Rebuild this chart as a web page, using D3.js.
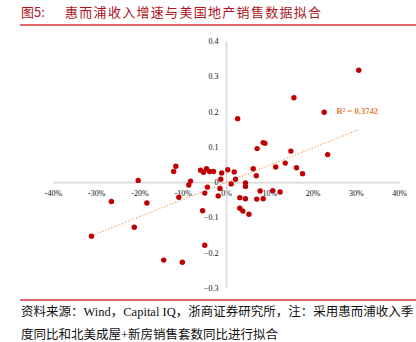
<!DOCTYPE html>
<html>
<head>
<meta charset="utf-8">
<script src="https://cdn.jsdelivr.net/npm/d3@7"></script>
<style>
  html, body { margin: 0; padding: 0; background: #fff; }
  svg { display: block; }
</style>
</head>
<body>
<svg id="chart" width="416" height="342"></svg>
<script>
// Quarterly Whirlpool revenue growth (y) vs. North American existing + new home sales growth (x)
const salesGrowth = [
  0.307, 0.157, 0.227, 0.027, 0.086, 0.090, 0.072, 0.150, 0.235, 0.137,
  0.115, 0.163, 0.063, 0.004, 0.177, 0.070, 0.019, -0.010, 0.022, 0.012,
  0.045, 0.045, 0.079, 0.108, 0.125, 0.032, 0.045, 0.071, 0.086, 0.032,
  0.039, 0.053, -0.012, -0.014, -0.018, -0.043, -0.049, -0.054, -0.049, -0.059,
  -0.052, -0.045, -0.038, -0.029, -0.116, -0.121, -0.082, -0.086, -0.109, -0.203,
  -0.265, -0.183, -0.212, -0.311, -0.144, -0.101
];
const revenueGrowth = [
  0.317, 0.239, 0.198, 0.180, 0.112, 0.110, 0.095, 0.088, 0.078, 0.054,
  0.043, 0.041, 0.038, 0.035, 0.024, 0.018, 0.029, 0.026, 0.008, -0.005,
  -0.002, -0.012, -0.025, -0.024, -0.028, -0.044, -0.047, -0.048, -0.047, -0.074,
  -0.082, -0.091, 0.008, -0.018, -0.039, -0.014, -0.031, -0.081, -0.179, 0.034,
  0.028, 0.038, 0.030, 0.030, 0.045, 0.030, 0.003, -0.008, -0.043, 0.005,
  -0.055, -0.059, -0.128, -0.153, -0.221, -0.227
];
const xTicks = [-0.4, -0.3, -0.2, -0.1, 0, 0.1, 0.2, 0.3, 0.4];
const yTicks = [0.4, 0.3, 0.2, 0.1, 0, -0.1, -0.2, -0.3];
const rSquaredLabel = "R² = 0.3742";
const titleLabel = "图5:";
const titleText = "惠而浦收入增速与美国地产销售数据拟合";
const sourceLines = [
  "资料来源：Wind，Capital IQ，浙商证券研究所，注：采用惠而浦收入季",
  "度同比和北美成屋+新房销售套数同比进行拟合"
];

const points = salesGrowth.map((x, i) => ({ x, y: revenueGrowth[i] }));

const svg = d3.select("#chart");
const red = "#c00000";
const serif = "'Liberation Serif', 'Times New Roman', 'Noto Sans CJK SC', serif";

// Header
svg.append("text")
  .attr("x", 21).attr("y", 17)
  .attr("fill", "#b0141c")
  .attr("font-family", "'Noto Sans CJK SC', sans-serif")
  .attr("font-size", 13)
  .text(titleLabel);
svg.append("text")
  .attr("x", 65).attr("y", 17)
  .attr("fill", "#b0141c")
  .attr("font-family", "'Noto Sans CJK SC', sans-serif")
  .attr("font-size", 13)
  .attr("letter-spacing", 1.3)
  .text(titleText);
svg.append("line")
  .attr("x1", 20).attr("x2", 416).attr("y1", 25).attr("y2", 25)
  .attr("stroke", "#d9363a").attr("stroke-width", 1.3);

// Scales
const x = d3.scaleLinear().domain([-0.4, 0.4]).range([53, 399]);
const y = d3.scaleLinear().domain([-0.3, 0.4]).range([288, 41]);

// Axes crossing at the origin
const gx = svg.append("g").attr("transform", `translate(0,${y(0)})`)
  .call(d3.axisBottom(x).tickValues(xTicks).tickSize(0).tickPadding(9)
    .tickFormat(d => Math.round(d * 100) + "%"));
const gy = svg.append("g").attr("transform", `translate(${x(0)},0)`)
  .call(d3.axisLeft(y).tickValues(yTicks).tickSize(0).tickPadding(7.5)
    .tickFormat(d => d === 0 ? "0" : d3.format(".1f")(d)));

[gx, gy].forEach(g => {
  g.select(".domain").attr("stroke", "#d9d9d9").attr("stroke-width", 1.6);
  g.selectAll("text")
    .attr("font-family", serif)
    .attr("font-size", 8)
    .attr("fill", "#111");
});
gx.selectAll("text").attr("dy", "0.55em");

// Least-squares trend line over the data range
const mx = d3.mean(points, d => d.x);
const my = d3.mean(points, d => d.y);
const slope = d3.sum(points, d => (d.x - mx) * (d.y - my)) / d3.sum(points, d => (d.x - mx) ** 2);
const intercept = my - slope * mx;
const [xmin, xmax] = d3.extent(points, d => d.x);
svg.append("line")
  .attr("x1", x(xmin)).attr("y1", y(intercept + slope * xmin))
  .attr("x2", x(xmax)).attr("y2", y(intercept + slope * xmax))
  .attr("stroke", "#f0a060").attr("stroke-width", 1.2)
  .attr("stroke-dasharray", "1.2,1.8");

// Scatter points
svg.append("g").selectAll("circle")
  .data(points)
  .join("circle")
  .attr("cx", d => x(d.x))
  .attr("cy", d => y(d.y))
  .attr("r", 2.7)
  .attr("fill", red);

// R-squared annotation
svg.append("text")
  .attr("x", 336.5).attr("y", y(0.2) + 2.5)
  .attr("fill", "#ed7d31")
  .attr("font-family", serif)
  .attr("font-weight", "bold")
  .attr("font-size", 8.6)
  .text(rSquaredLabel);

// Footer
svg.append("line")
  .attr("x1", 20).attr("x2", 416).attr("y1", 300).attr("y2", 300)
  .attr("stroke", "#d9363a").attr("stroke-width", 1.3);
svg.selectAll("text.source")
  .data(sourceLines)
  .join("text")
  .attr("class", "source")
  .attr("x", 21)
  .attr("y", (d, i) => 316 + i * 23)
  .attr("fill", "#111")
  .attr("font-family", serif)
  .attr("font-size", 12.5)
  .text(d => d);
</script>
</body>
</html>
